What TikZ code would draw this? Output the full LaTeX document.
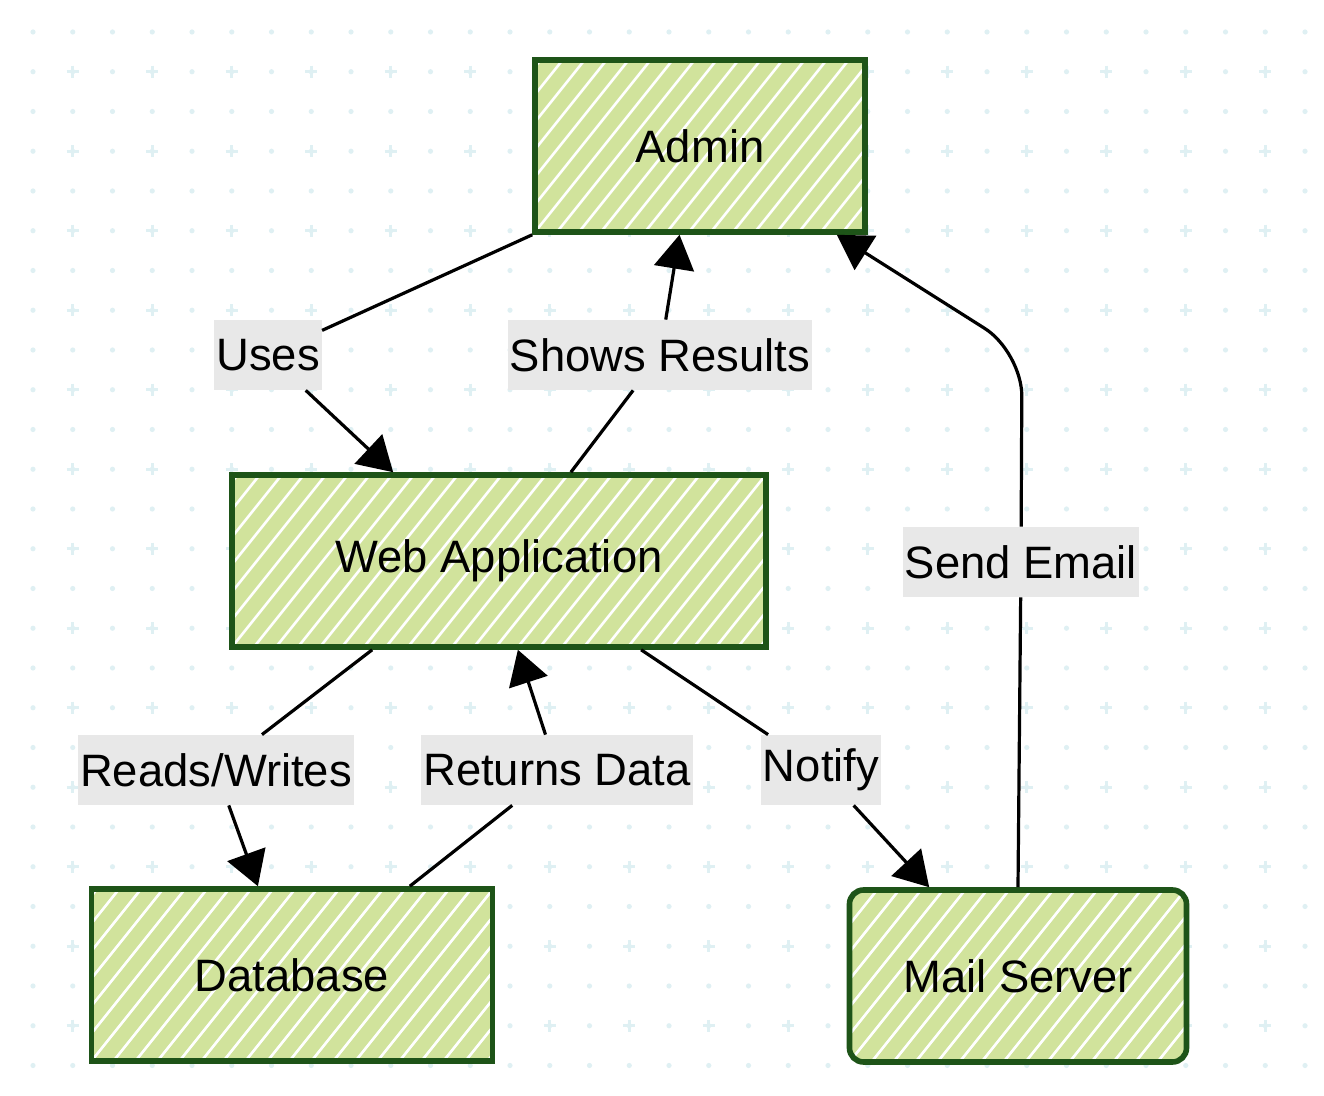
\documentclass[tikz,border=0pt]{standalone}
\usepackage{fontspec}
\setmainfont{Liberation Sans}
\usetikzlibrary{arrows.meta}

\begin{document}
\begin{tikzpicture}[x=0.5pt, y=-0.5pt,
    hatch/.style={path picture={
        \foreach \k in {-10,...,30}
            \draw[white, line width=1.3pt] ([xshift=\k*11pt]path picture bounding box.south west) -- ++(100pt,125pt);
    }},
    box/.style={draw=borderColour, line width=2.8pt, fill=fillColour, hatch,
        minimum height=86pt, font=\fontsize{22.7}{27}\selectfont},
    lbl/.style={fill=labelColour, inner xsep=1pt, inner ysep=0pt,
        minimum height=35pt, font=\fontsize{22.7}{27}\selectfont},
    link/.style={line width=1.6pt},
    arrow/.style={link, -{Triangle[length=17pt, width=20pt]}}]
    % Define colours
    \definecolor{borderColour}{HTML}{1E5418}
    \definecolor{fillColour}{HTML}{D1E39C}
    \definecolor{labelColour}{HTML}{E8E8E8}
    \definecolor{gridColour}{HTML}{DFF0F3}

    % Fix the page size
    \fill[white] (0,0) rectangle (1324,1096);
    \useasboundingbox (0,0) rectangle (1324,1096);

    % Draw dotted background grid
    \foreach \i in {0,...,32}
        \foreach \j in {0,...,26}
            \fill[gridColour] (33+39.75*\i, 32+39.75*\j) circle (2.6);
    \foreach \i in {1,3,...,31}
        \foreach \j in {1,3,...,25}
            \draw[gridColour, line width=1.5pt] (27+39.75*\i, 32+39.75*\j) -- ++(12,0)
                (33+39.75*\i, 26+39.75*\j) -- ++(0,12);

    % Draw the components
    \node[box, minimum width=165pt] (admin) at (700,146) {Admin};
    \node[box, minimum width=267pt] (web) at (499,561) {Web Application};
    \node[box, minimum width=200.5pt] (db) at (292,975) {Database};
    \node[box, minimum width=168.5pt, rounded corners=7pt] (mail) at (1018,976) {Mail Server};

    % Edge labels
    \node[lbl] (uses) at (268,355) {Uses};
    \node[lbl] (shows) at (660,355) {Shows Results};
    \node[lbl] (send) at (1021,562) {Send Email};
    \node[lbl] (reads) at (216,770) {Reads/Writes};
    \node[lbl] (returns) at (557,770) {Returns Data};
    \node[lbl] (notify) at (821,770) {Notify};
    \coordinate (bend) at (1022,352);

    % Draw the connectors
    \draw[link] (admin.south west) -- (uses);
    \draw[arrow] (uses) -- (web.140);
    \draw[link] (web.51) -- (shows);
    \draw[arrow] (shows) -- (admin.257);
    \draw[link] (web.215) -- (reads);
    \draw[arrow] (reads) -- (db.111);
    \draw[link] (db.37) -- (returns);
    \draw[arrow] (returns) -- (web.282);
    \draw[link] (web.328) -- (notify);
    \draw[arrow] (notify) -- (mail.135);
    \draw[link] (mail.north) -- (send);
    \draw[arrow, rounded corners=22pt] (send) -- (bend) -- (admin.-33);

\end{tikzpicture}
\end{document}
